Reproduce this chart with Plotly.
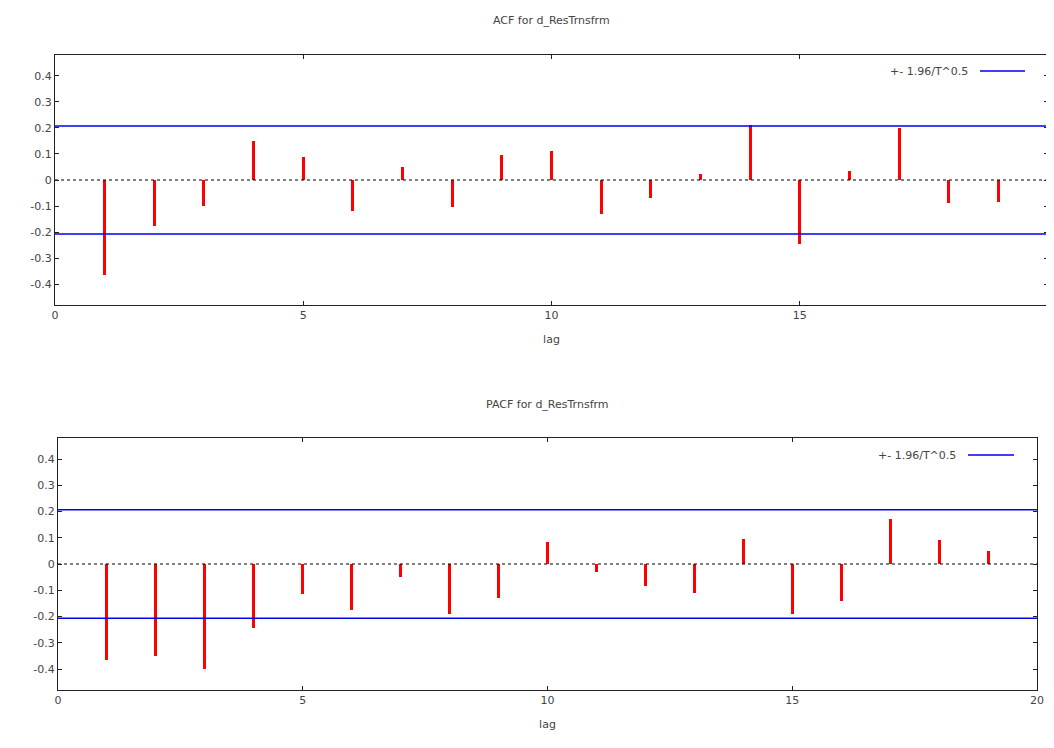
import plotly.graph_objects as go

lags = list(range(1, 20))
acf = [-0.365, -0.175, -0.1, 0.148, 0.087, -0.12, 0.05, -0.105, 0.095, 0.113,
       -0.13, -0.07, 0.022, 0.21, -0.245, 0.035, 0.2, -0.088, -0.085]
pacf = [-0.365, -0.35, -0.4, -0.242, -0.115, -0.177, -0.05, -0.19, -0.13, 0.085,
        -0.03, -0.085, -0.11, 0.097, -0.192, -0.142, 0.173, 0.093, 0.05]
band = 0.207
yticks = [-0.4, -0.3, -0.2, -0.1, 0, 0.1, 0.2, 0.3, 0.4]
ytext = ["-0.4", "-0.3", "-0.2", "-0.1", "0", "0.1", "0.2", "0.3", "0.4"]

W, H = 1046, 740
L = 47
PW = W - L
def px(x):
    return (x - L) / PW
def py(y):
    return 1 - y / H

fig = go.Figure()
for vals, ax in [(acf, ""), (pacf, "2")]:
    xa, ya = "x" + ax, "y" + ax
    fig.add_trace(go.Bar(x=lags, y=vals, width=0.06, marker_color="red",
                         marker_line_width=0, xaxis=xa, yaxis=ya, showlegend=False))
    fig.add_trace(go.Scatter(x=[0, 20], y=[0, 0], mode="lines",
                             line=dict(color="black", width=1.2, dash="dot"),
                             xaxis=xa, yaxis=ya, showlegend=False))
    for s in (1, -1):
        fig.add_trace(go.Scatter(x=[0, 20], y=[s * band, s * band], mode="lines",
                                 line=dict(color="#0000ee", width=1.5),
                                 xaxis=xa, yaxis=ya, showlegend=False))

axis_common = dict(showgrid=False, zeroline=False, showline=True, mirror="allticks",
                   linecolor="#222", linewidth=1, ticks="inside", ticklen=4,
                   tickcolor="#222", tickfont=dict(size=11, color="#444"))
fig.update_layout(
    width=W, height=H, plot_bgcolor="white", paper_bgcolor="white",
    margin=dict(l=L, r=0, t=0, b=0, autoexpand=False), bargap=0,
    font=dict(family="DejaVu Sans", size=11, color="#444"),
    xaxis=dict(domain=[0, px(1040)], range=[0, 20], tickvals=[0, 5, 10, 15, 20], anchor="y",
               title=dict(text="lag", font=dict(size=11), standoff=14), **axis_common),
    yaxis=dict(domain=[py(297), py(47)], range=[-0.48, 0.48], tickvals=yticks, ticktext=ytext,
               anchor="x", **axis_common),
    xaxis2=dict(domain=[px(50), px(1029)], range=[0, 20], tickvals=[0, 5, 10, 15, 20], anchor="y2",
                title=dict(text="lag", font=dict(size=11), standoff=14), **axis_common),
    yaxis2=dict(domain=[py(682), py(430)], range=[-0.48, 0.48], tickvals=yticks, ticktext=ytext,
                anchor="x2", **axis_common),
)

def ann(text, x, y, xanchor="center"):
    return dict(text=text, x=px(x), y=py(y), xref="paper", yref="paper", xanchor=xanchor,
                yanchor="middle", showarrow=False, font=dict(size=11))

fig.update_layout(annotations=[
    ann("ACF for d_ResTrnsfrm", (47 + 1040) / 2, 12),
    ann("PACF for d_ResTrnsfrm", (50 + 1029) / 2, 397),
    ann("+- 1.96/T^0.5", 962, 63, "right"),
    ann("+- 1.96/T^0.5", 950, 447, "right"),
])
for x0, x1, y in [(972, 1017, 63), (960, 1006, 447)]:
    fig.add_shape(type="line", xref="paper", yref="paper", x0=px(x0), x1=px(x1),
                  y0=py(y), y1=py(y), line=dict(color="#0000ee", width=1.5))

fig.write_html("out.html")
